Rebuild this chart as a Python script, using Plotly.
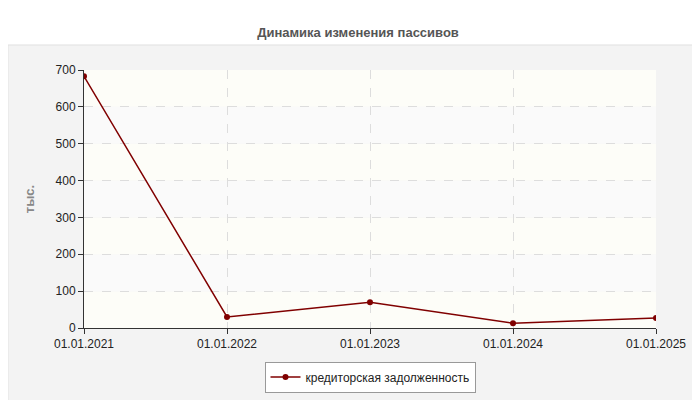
import plotly.graph_objects as go

dates = ["01.01.2021", "01.01.2022", "01.01.2023", "01.01.2024", "01.01.2025"]
values = [683, 30, 70, 13, 27]
series_name = "кредиторская задолженность"
y_ticks = [0, 100, 200, 300, 400, 500, 600, 700]

fig = go.Figure()
fig.add_trace(go.Scatter(x=list(range(len(dates))), y=values, mode="lines+markers",
    name=series_name, line=dict(color="#800000", width=1.5),
    marker=dict(color="#800000", size=6)))

shapes = [dict(type="rect", xref="paper", yref="paper", x0=-0.133, x1=1.073, y0=-0.29, y1=1.097,
               fillcolor="#f3f3f3", line=dict(color="#e0e0e0", width=1), layer="below")]
for i in range(0, 700, 100):
    shapes.append(dict(type="rect", xref="paper", yref="y", x0=0, x1=1, y0=i, y1=i+100,
        fillcolor="#fdfdf8" if (i // 100) % 2 == 0 else "#fafafa", line=dict(width=0), layer="below"))

fig.update_layout(
    width=700, height=400, paper_bgcolor="white", plot_bgcolor="white",
    margin=dict(l=76, r=52, t=62, b=80, autoexpand=False),
    title=dict(text="<b>Динамика изменения пассивов</b>", x=0.5, y=0.95, xanchor="center",
               font=dict(family="Arial, Liberation Sans", size=13, color="#555")),
    font=dict(family="Arial, Liberation Sans", size=12, color="#222"),
    shapes=shapes,
    xaxis=dict(range=[0, 4], tickvals=list(range(len(dates))), ticktext=dates, automargin=False,
               showgrid=True, gridcolor="#dddddd", griddash="dash", zeroline=False,
               showline=True, linecolor="#333", ticks="outside", ticklen=5, tickcolor="#333"),
    yaxis=dict(range=[0, 700], tickvals=y_ticks, showgrid=True, gridcolor="#dddddd", automargin=False,
               griddash="dash", zeroline=False, showline=True, linecolor="#333",
               ticks="outside", ticklen=5, tickcolor="#333",
               title=dict(text="<b>тыс.</b>", font=dict(color="#888", size=13), standoff=18)),
    legend=dict(orientation="h", x=0.5, xanchor="center", y=-0.13, yanchor="top",
                bgcolor="white", bordercolor="#999", borderwidth=1,
                font=dict(size=12, color="#222")),
    showlegend=True,
)
fig.write_html("out.html")
